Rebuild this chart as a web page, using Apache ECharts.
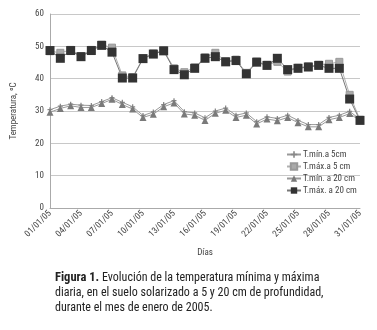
<!DOCTYPE html>
<html><head><meta charset="utf-8">
<script src="https://cdn.jsdelivr.net/npm/echarts@6/dist/echarts.min.js"></script>
<style>html,body{margin:0;padding:0;background:#fff}#c{width:377px;height:330px}</style>
</head><body><div id="c"></div>
<script>
var categories = ["01/01/05","02/01/05","03/01/05","04/01/05","05/01/05","06/01/05","07/01/05","08/01/05","09/01/05","10/01/05","11/01/05","12/01/05","13/01/05","14/01/05","15/01/05","16/01/05","17/01/05","18/01/05","19/01/05","20/01/05","21/01/05","22/01/05","23/01/05","24/01/05","25/01/05","26/01/05","27/01/05","28/01/05","29/01/05","30/01/05","31/01/05"];
var tmin5 = [30.4,31.5,32.1,31.8,31.7,32.9,34.1,32.7,31.3,28.6,29.7,32.0,33.2,29.8,29.4,27.9,30.0,30.9,28.7,29.4,26.7,28.2,27.7,28.7,27.1,25.8,25.8,28.0,28.7,29.9,27.4];
var tmax5 = [48.5,48.0,48.9,47.0,48.9,50.5,49.6,41.0,40.5,46.3,47.8,48.8,43.2,42.0,43.5,46.6,48.0,45.4,45.9,41.8,45.3,44.3,45.2,42.2,43.4,43.8,44.3,44.6,45.2,35.0,27.3];
var tmin20 = [29.6,30.8,31.6,31.1,31.1,32.3,33.6,32.0,30.6,28.0,29.0,31.3,32.5,29.1,28.7,27.1,29.3,30.2,28.0,28.7,26.0,27.5,27.0,28.0,26.4,25.1,25.1,27.3,28.0,29.2,27.0];
var tmax20 = [48.7,46.3,48.7,46.8,48.7,50.3,48.2,40.2,40.2,46.2,47.6,48.6,42.8,41.2,43.2,46.3,46.8,45.2,45.6,41.5,45.1,44.1,46.3,42.8,43.2,43.6,44.1,43.2,43.2,33.7,27.1];
var seriesNames = ["T.mín.a 5cm","T.máx.a 5 cm","T.mín. a 20 cm","T.máx. a 20 cm"];
var yTicks = [0,10,20,30,40,50,60];

var FF = "'Liberation Sans Narrow','Roboto Condensed','Liberation Sans',Arial,sans-serif";
var plus = 'path://M3,0H5V3H8V5H5V8H3V5H0V3H3Z';
var chart = echarts.init(document.getElementById('c'), null, {renderer:'canvas'});
chart.setOption({
  animation:false,
  backgroundColor:'#fff',
  title:{
    left:50, top:265,
    text:'{b|Figura 1.} {n|Evolución de la temperatura mínima y máxima}\n{n|diaria, en el suelo solarizado a 5 y 20 cm de profundidad,}\n{n|durante el mes de enero de 2005.}',
    textStyle:{
      fontFamily:FF, fontSize:12, fontWeight:'normal', lineHeight:15, color:'#222',
      rich:{
        b:{fontFamily:FF, fontSize:12.5, fontWeight:'bold', color:'#222', lineHeight:15},
        n:{fontFamily:FF, fontSize:12, fontWeight:'normal', color:'#222', lineHeight:15}
      }
    }
  },
  grid:{left:50, right:17, top:14, bottom:122, containLabel:false},
  legend:{
    orient:'vertical', left:281, top:145, itemGap:3, itemWidth:14, itemHeight:8,
    data:seriesNames,
    textStyle:{fontFamily:FF, fontSize:9, color:'#444', padding:[0,0,0,-3]}
  },
  xAxis:{
    type:'category', data:categories, boundaryGap:false,
    name:'Días', nameLocation:'middle', nameGap:40,
    nameTextStyle:{fontFamily:FF, fontSize:9, color:'#444'},
    axisLine:{lineStyle:{color:'#aaa'}},
    axisTick:{show:false},
    axisLabel:{interval:2, rotate:45, fontFamily:FF, fontSize:9, color:'#444', margin:4},
    splitLine:{show:false}
  },
  yAxis:{
    type:'value', min:0, max:60, interval:10,
    name:'Temperatura, ºC', nameLocation:'middle', nameGap:32, nameRotate:90,
    nameTextStyle:{fontFamily:FF, fontSize:9, color:'#444'},
    axisLine:{show:true, lineStyle:{color:'#aaa'}},
    axisTick:{show:false},
    axisLabel:{fontFamily:FF, fontSize:9, color:'#444', margin:6},
    splitLine:{lineStyle:{color:'#c8c8c8', width:1}}
  },
  series:[
    {name:seriesNames[0], type:'line', data:tmin5, symbol:plus, symbolSize:5, showAllSymbol:true,
     lineStyle:{color:'#999', width:1}, itemStyle:{color:'#888'}},
    {name:seriesNames[1], type:'line', data:tmax5, symbol:'rect', symbolSize:7, showAllSymbol:true,
     lineStyle:{color:'#b0b0b0', width:1}, itemStyle:{color:'#aaa', borderColor:'#999', borderWidth:1}},
    {name:seriesNames[2], type:'line', data:tmin20, symbol:'triangle', symbolSize:7, showAllSymbol:true,
     lineStyle:{color:'#999', width:1}, itemStyle:{color:'#7a7a7a'}},
    {name:seriesNames[3], type:'line', data:tmax20, symbol:'rect', symbolSize:9, showAllSymbol:true,
     lineStyle:{color:'#777', width:1}, itemStyle:{color:'#333'}}
  ]
});
</script>
</body></html>
